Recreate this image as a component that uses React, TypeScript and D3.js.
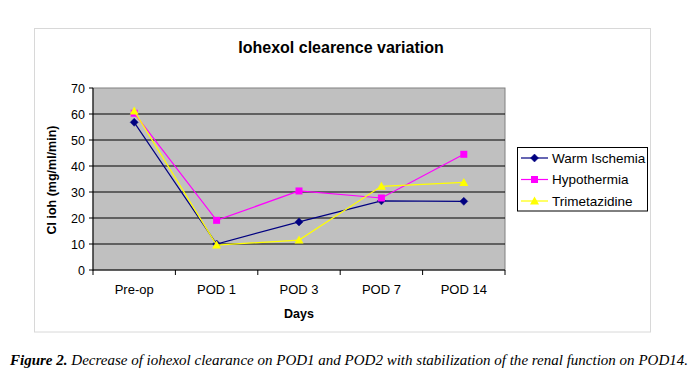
import React from "react";
import * as d3 from "d3";

const categories = ["Pre-op", "POD 1", "POD 3", "POD 7", "POD 14"];
const warmIschemia = [56.8, 10, 18.5, 26.6, 26.4];
const hypothermia = [60.3, 19.1, 30.4, 27.7, 44.5];
const trimetazidine = [61.2, 9.6, 11.5, 32.2, 33.7];
const yTicks = [0, 10, 20, 30, 40, 50, 60, 70];

const series = [
  { name: "Warm Ischemia", values: warmIschemia, color: "#000080", marker: "diamond" },
  { name: "Hypothermia", values: hypothermia, color: "#FF00FF", marker: "square" },
  { name: "Trimetazidine", values: trimetazidine, color: "#FFFF00", marker: "triangle" },
];

const W = 700, H = 380;
const plot = { left: 93, right: 505, top: 88, bottom: 270 };

function Marker({ type, x, y, color }: { type: string; x: number; y: number; color: string }) {
  if (type === "diamond") {
    const s = 4;
    return <path d={`M${x},${y - s}L${x + s},${y}L${x},${y + s}L${x - s},${y}Z`} fill={color} stroke={color} strokeWidth={0.5} />;
  }
  if (type === "square") {
    return <rect x={x - 3.5} y={y - 3.5} width={7} height={7} fill={color} />;
  }
  return <path d={`M${x},${y - 4.5}L${x + 4.5},${y + 3.5}L${x - 4.5},${y + 3.5}Z`} fill={color} />;
}

export default function App() {
  const x = d3.scaleBand<string>().domain(categories).range([plot.left, plot.right]);
  const y = d3.scaleLinear().domain([0, 70]).range([plot.bottom, plot.top]);
  const line = d3
    .line<number>()
    .x((_, i) => (x(categories[i]) as number) + x.bandwidth() / 2)
    .y((d) => y(d));
  const font = "Arial, 'Liberation Sans', sans-serif";
  const boundaries = categories.map((c) => x(c) as number).concat([plot.right]);

  return (
    <svg width={W} height={H} style={{ position: "absolute", left: 0, top: 0, background: "#fff" }}>
      <rect x={0} y={0} width={W} height={H} fill="#fff" />
      <rect x={34.5} y={28.5} width={616} height={303.5} fill="#fff" stroke="#d8d8d8" strokeWidth={1} />
      <text x={341} y={53} textAnchor="middle" fontFamily={font} fontWeight="bold" fontSize={16} fill="#000">
        Iohexol clearence variation
      </text>
      <rect x={plot.left} y={plot.top} width={plot.right - plot.left} height={plot.bottom - plot.top} fill="#C0C0C0" stroke="#808080" strokeWidth={1} />
      {yTicks.map((t) => (
        <g key={t}>
          {t > 0 && t < 70 && <line x1={plot.left} x2={plot.right} y1={y(t)} y2={y(t)} stroke="#000" strokeWidth={1} />}
          <line x1={plot.left - 4} x2={plot.left} y1={y(t)} y2={y(t)} stroke="#000" />
          <text x={plot.left - 8} y={y(t) + 4.5} textAnchor="end" fontFamily={font} fontSize={12.5} fill="#000">
            {t}
          </text>
        </g>
      ))}
      <line x1={plot.left} x2={plot.left} y1={plot.top} y2={plot.bottom + 0.5} stroke="#000" />
      <line x1={plot.left} x2={plot.right} y1={plot.bottom} y2={plot.bottom} stroke="#000" />
      {boundaries.map((b, i) => (
        <line key={i} x1={b} x2={b} y1={plot.bottom} y2={plot.bottom + 5} stroke="#000" />
      ))}
      {categories.map((c) => (
        <text key={c} x={(x(c) as number) + x.bandwidth() / 2} y={294} textAnchor="middle" fontFamily={font} fontSize={13} fill="#000">
          {c}
        </text>
      ))}
      <text x={299} y={318} textAnchor="middle" fontFamily={font} fontWeight="bold" fontSize={12.5} fill="#000">
        Days
      </text>
      <text transform="translate(56,180) rotate(-90)" textAnchor="middle" fontFamily={font} fontWeight="bold" fontSize={12.5} fill="#000">
        Cl ioh (mg/ml/min)
      </text>
      {series.map((s) => (
        <g key={s.name}>
          <path d={line(s.values) || ""} fill="none" stroke={s.color} strokeWidth={1.2} />
          {s.values.map((v, i) => (
            <Marker key={i} type={s.marker} x={(x(categories[i]) as number) + x.bandwidth() / 2} y={y(v)} color={s.color} />
          ))}
        </g>
      ))}
      <rect x={517.5} y={147.5} width={130} height={63.5} fill="#fff" stroke="#000" strokeWidth={1} />
      {series.map((s, i) => {
        const ly = 158 + i * 21.5;
        return (
          <g key={s.name}>
            <line x1={521} x2={548} y1={ly} y2={ly} stroke={s.color} strokeWidth={1.2} />
            <Marker type={s.marker} x={534.5} y={ly} color={s.color} />
            <text x={552} y={ly + 4.5} fontFamily={font} fontSize={13.5} fill="#000">
              {s.name}
            </text>
          </g>
        );
      })}
      <text x={10} y={365} fontFamily="'Liberation Serif', 'Times New Roman', serif" fontStyle="italic" fontSize={14.5} fill="#000" textLength={678} lengthAdjust="spacingAndGlyphs">
        <tspan fontWeight="bold">Figure 2.</tspan>
        <tspan> Decrease of iohexol clearance on POD1 and POD2 with stabilization of the renal function on POD14.</tspan>
      </text>
    </svg>
  );
}
